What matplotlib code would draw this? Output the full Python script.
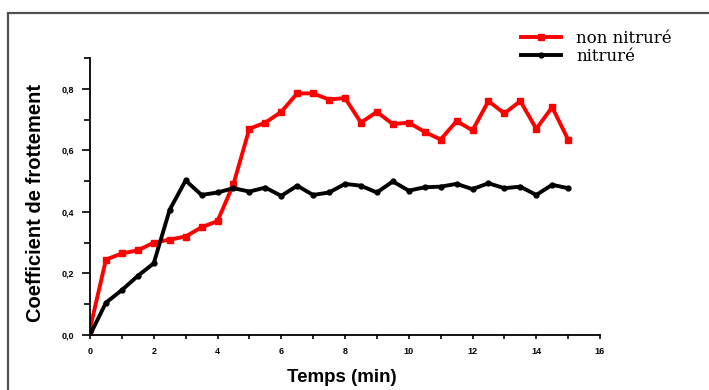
import matplotlib
matplotlib.use("Agg")
import matplotlib.pyplot as plt
from matplotlib.patches import Rectangle
from matplotlib.ticker import MultipleLocator

# data
temps = [0.0, 0.5, 1.0, 1.5, 2.0, 2.5, 3.0, 3.5, 4.0, 4.5, 5.0, 5.5, 6.0, 6.5, 7.0, 7.5,
         8.0, 8.5, 9.0, 9.5, 10.0, 10.5, 11.0, 11.5, 12.0, 12.5, 13.0, 13.5, 14.0, 14.5, 15.0]
non_nitrure = [0.02, 0.245, 0.265, 0.275, 0.30, 0.31, 0.32, 0.35, 0.37, 0.49, 0.67, 0.69,
               0.725, 0.785, 0.785, 0.765, 0.77, 0.69, 0.725, 0.685, 0.69, 0.66, 0.635,
               0.695, 0.665, 0.76, 0.72, 0.76, 0.67, 0.74, 0.635]
nitrure = [0.0, 0.105, 0.146, 0.192, 0.233, 0.407, 0.502, 0.455, 0.463, 0.477, 0.466, 0.479,
           0.452, 0.485, 0.455, 0.463, 0.491, 0.485, 0.463, 0.499, 0.469, 0.48, 0.482,
           0.491, 0.474, 0.493, 0.477, 0.482, 0.455, 0.488, 0.477]
labels = ["non nitruré", "nitruré"]
x_ticks = [0, 2, 4, 6, 8, 10, 12, 14, 16]
y_ticks = [0.0, 0.2, 0.4, 0.6, 0.8]
y_ticklabels = ["0,0", "0,2", "0,4", "0,6", "0,8"]

fig = plt.figure(figsize=(7.09, 3.90), dpi=100)
fig.patch.set_facecolor("white")

# outer frame, cut by the image border on the right and bottom
fig.patches.append(Rectangle((8 / 709, -0.05), 1.1, 1.05 - 13 / 390, transform=fig.transFigure,
                             fill=False, edgecolor="#505050", linewidth=1.6))

ax = fig.add_axes([90 / 709, 1 - 335 / 390, 510 / 709, 277 / 390])

ax.plot(temps, non_nitrure, color="#ff0000", linewidth=2.8, marker="s", markersize=4.5,
        label=labels[0])
ax.plot(temps, nitrure, color="black", linewidth=2.8, marker="o", markersize=3.5,
        label=labels[1])

ax.set_xlim(0, 16)
ax.set_ylim(0, 0.9)
ax.spines["top"].set_visible(False)
ax.spines["right"].set_visible(False)
ax.spines["left"].set_linewidth(1.3)
ax.spines["bottom"].set_linewidth(1.3)

ax.set_xticks(x_ticks)
ax.set_xticklabels([str(t) for t in x_ticks])
ax.set_yticks(y_ticks)
ax.set_yticklabels(y_ticklabels)
ax.xaxis.set_minor_locator(MultipleLocator(1))
ax.yaxis.set_minor_locator(MultipleLocator(0.1))
ax.tick_params(which="both", direction="out", width=1.2)
ax.tick_params(axis="x", which="both", length=3, pad=6)
ax.tick_params(axis="y", which="major", length=5.5, pad=6)
ax.tick_params(axis="y", which="minor", length=4)
for lab in ax.get_xticklabels() + ax.get_yticklabels():
    lab.set_fontsize(6.5)
    lab.set_fontweight("bold")
    lab.set_family("Liberation Sans")

ax.set_xlabel("Temps (min)", fontsize=13.5, fontweight="bold", family="Liberation Sans",
              va="center")
ax.xaxis.set_label_coords(0.494, -0.153)
ax.set_ylabel("Coefficient de frottement", fontsize=14.5, fontweight="bold",
              family="Liberation Sans", va="center")
ax.yaxis.set_label_coords(-0.106, 0.475)

leg = fig.legend(loc="upper left", bbox_to_anchor=(513 / 709, 1 - 22 / 390), frameon=False,
                 prop={"family": "DejaVu Serif", "size": 12}, handlelength=2.4,
                 handletextpad=0.9, labelspacing=0.02, borderpad=0)

fig.savefig("out.png", dpi=100, facecolor="white")
